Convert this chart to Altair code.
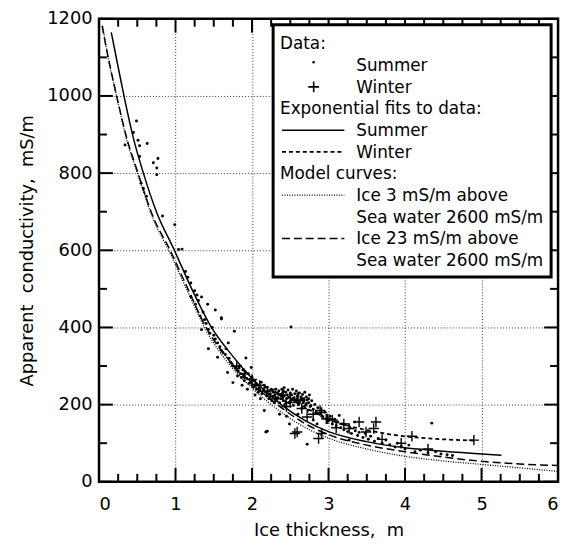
import altair as alt
import pandas as pd

W, H = 464, 468
FONT = "DejaVu Sans"

# ---------------- data ----------------
sum_x = [0.34, 0.49, 0.51, 0.53, 0.63, 0.53, 0.71, 0.77, 0.755, 0.755, 0.55, 0.58, 0.83, 0.99, 1.085, 1.04, 0.62, 0.45,
         1.13, 1.16, 1.2, 1.25, 1.28, 1.34, 1.42, 1.52, 1.6, 1.6, 1.3, 1.36, 1.38, 1.4, 1.43, 1.45, 1.34, 1.48, 1.5, 1.52,
         1.55, 1.43, 1.55, 1.58, 1.6, 1.62, 1.65, 1.66, 1.69, 1.7, 1.72, 1.74, 1.77, 1.68, 1.75, 1.78, 1.8, 1.81, 1.75,
         1.2, 1.26, 1.32,
         1.82, 1.84, 1.85, 1.86, 1.88, 1.9, 1.9, 1.92, 1.93, 1.95, 1.96, 1.97, 1.99, 2.0, 2.0, 2.02, 2.03, 2.05, 2.06,
         2.07, 2.08, 2.1, 2.1, 2.12, 2.13, 2.15, 2.16, 2.16, 2.18, 2.18, 2.19, 2.2, 2.2, 2.22, 2.22, 2.24, 2.25, 2.26,
         2.27, 2.28, 2.29, 1.87, 1.94, 2.04, 2.11,
         2.3, 2.31, 2.32, 2.33, 2.34, 2.35, 2.36, 2.37, 2.38, 2.39, 2.4, 2.41, 2.42, 2.42, 2.43, 2.44, 2.45, 2.46, 2.47,
         2.48, 2.49, 2.49, 2.5, 2.51, 2.51, 2.52, 2.53, 2.54, 2.55, 2.56, 2.57, 2.58, 2.59, 2.6, 2.61, 2.62, 2.63, 2.64,
         2.65, 2.66, 2.67, 2.68, 2.69, 2.7, 2.71, 2.72, 2.72, 2.73, 2.74, 2.75, 2.76, 2.78, 2.8, 2.82, 2.84, 2.86, 2.88,
         2.9, 2.92, 2.95, 2.98, 2.36, 2.45, 2.6, 2.8, 2.85,
         3.0, 3.02, 3.05, 3.08, 3.1, 3.12, 3.14, 3.16, 3.18, 3.2, 3.22, 3.25, 3.27, 3.28, 3.3, 3.34, 3.35, 3.38, 3.4,
         3.45, 3.48, 3.52, 3.55, 3.6, 3.65, 3.7, 3.75, 3.8, 3.87, 3.9, 3.95, 4.0, 4.05, 4.13, 4.2, 4.3, 4.35, 4.4,
         4.47, 4.55, 4.62,
         1.83, 1.89, 1.91, 1.98, 2.01, 2.04, 2.09, 2.14, 2.17, 2.21, 2.23, 2.27, 2.31, 2.34, 2.38, 2.41, 2.44, 2.47,
         2.5, 2.53, 2.56, 2.59, 2.62, 2.65, 2.68, 2.71, 2.74, 2.77, 2.3, 2.4, 2.5, 2.6, 2.2, 2.1]
sum_y = [873, 935, 885, 871, 877, 843, 827, 838, 813, 796, 774, 760, 689, 666, 603, 602, 740, 905,
         545, 530, 515, 495, 484, 479, 460, 445, 422, 425, 470, 440, 420, 410, 395, 385, 394, 400, 380, 370,
         360, 345, 323, 350, 340, 335, 330, 345, 360, 320, 310, 305, 390, 283, 300, 295, 290, 274, 257,
         480, 460, 430,
         285, 300, 280, 270, 290, 275, 262, 321, 268, 280, 255, 265, 296, 250, 270, 245, 262, 255, 240,
         250, 232, 248, 236, 258, 228, 240, 185, 250, 129, 232, 222, 245, 131, 236, 215, 228, 240, 210,
         222, 232, 205, 250, 240, 225, 215,
         225, 240, 212, 230, 218, 235, 205, 226, 215, 240, 230, 210, 244, 222, 200, 232, 215, 225, 238,
         205, 150, 220, 230, 401, 212, 225, 240, 198, 218, 228, 208, 235, 215, 222, 200, 230, 212, 220,
         190, 226, 205, 215, 232, 198, 220, 212, 97, 185, 205, 225, 195, 210, 188, 200, 180, 192, 175,
         185, 170, 180, 165, 175, 170, 175, 160, 150,
         158, 170, 150, 162, 145, 155, 172, 140, 150, 135, 148, 130, 108, 140, 125, 155, 132, 120, 128,
         115, 125, 110, 118, 105, 112, 100, 108, 96, 90, 100, 92, 85, 95, 78, 82, 75, 152, 78,
         72, 70, 68,
         295, 272, 285, 258, 262, 250, 242, 235, 245, 228, 220, 238, 218, 228, 222, 235, 208, 218,
         226, 215, 212, 222, 205, 215, 210, 202, 215, 198, 232, 218, 208, 228, 225, 238]

win_x = [2.56, 2.59, 2.91, 2.87, 2.91, 2.97, 2.89, 2.99, 2.72, 3.27, 3.40, 3.62, 3.59, 3.49, 4.09, 4.90,
         3.1, 3.2, 2.3, 2.4, 2.5, 2.6, 2.45, 2.2, 2.1, 2.0, 1.9, 1.8, 2.65, 2.8, 3.05, 3.7, 3.95, 4.3]
win_y = [125, 129, 125, 112, 180, 163, 185, 163, 168, 138, 155, 155, 138, 129, 118, 108,
         140, 150, 215, 225, 205, 210, 195, 235, 250, 265, 280, 300, 190, 175, 160, 110, 100, 85]

# exponential fits
fit_sum_x = [0.16, 0.25, 0.34, 0.45, 0.58, 0.75, 0.985, 1.2, 1.47, 1.75, 2.0, 2.38, 2.7, 3.0, 3.5, 4.0, 4.5, 5.0, 5.26]
fit_sum_y = [1165, 1075, 987, 890, 800, 700, 600, 505, 400, 325, 268, 200, 158, 130, 104, 88, 79, 72, 69]
fit_win_x = [2.5, 2.7, 3.0, 3.3, 3.6, 3.9, 4.2, 4.5, 4.9]
fit_win_y = [215, 192, 162, 143, 130, 120, 114, 110, 107]
# model curves
mod3_x = [0.05, 0.1, 0.245, 0.35, 0.51, 0.7, 0.93, 1.15, 1.40, 1.7, 2.0, 2.33, 2.7, 3.0, 3.5, 4.0, 4.5, 5.0, 5.5, 6.0]
mod3_y = [1180, 1120, 987, 895, 795, 685, 592, 497, 392, 305, 243, 188, 140, 113, 85, 66, 54, 45, 36, 27]
mod23_x = [0.04, 0.1, 0.245, 0.35, 0.51, 0.7, 0.93, 1.15, 1.40, 1.7, 2.0, 2.33, 2.7, 3.0, 3.5, 4.0, 4.5, 5.0, 5.5, 6.0]
mod23_y = [1182, 1120, 987, 900, 800, 690, 600, 505, 400, 315, 255, 200, 150, 122, 95, 78, 64, 53, 46, 42]

x_major = [0, 1, 2, 3, 4, 5, 6]
x_minor = [0.25, 0.5, 0.75, 1.25, 1.5, 1.75, 2.25, 2.5, 2.75, 3.25, 3.5, 3.75,
           4.25, 4.5, 4.75, 5.25, 5.5, 5.75]
y_major = [0, 200, 400, 600, 800, 1000, 1200]
y_minor = [100, 300, 500, 700, 900, 1100]

legend_labels = ["Data:", "Summer", "Winter", "Exponential fits to data:", "Summer", "Winter",
                 "Model curves:", "Ice 3 mS/m above", "Sea water 2600 mS/m",
                 "Ice 23 mS/m above", "Sea water 2600 mS/m"]
legend_is_header = [True, False, False, True, False, False, True, False, False, False, False]

x_title = "Ice thickness,\u00a0 m"
y_title = "Apparent\u00a0 conductivity,\u00a0 mS/m"

# ---------------- scales / axes ----------------
xs = alt.Scale(domain=[0, 6], nice=False, zero=False)
ys = alt.Scale(domain=[0, 1200], nice=False, zero=False)
common = dict(grid=True, ticks=False, tickSize=0, domain=False, format="d",
              labelFont=FONT, labelFontSize=18, labelColor="black",
              titleFont=FONT, titleFontSize=18, titleFontWeight="normal", titleColor="black",
              gridColor="black", gridDash=[1, 2], gridWidth=1, gridOpacity=0.8)
xaxis = alt.Axis(values=x_major, title=x_title, labelPadding=14, titlePadding=8, **common)
yaxis = alt.Axis(values=y_major, title=y_title, labelPadding=7, titlePadding=10, **common)


def X(f):
    return alt.X(f, type="quantitative", scale=xs, axis=xaxis)


def Y(f):
    return alt.Y(f, type="quantitative", scale=ys, axis=yaxis)


summer = pd.DataFrame({"x": sum_x, "y": sum_y})
winter = pd.DataFrame({"x": win_x, "y": win_y})

PLUS = "M-1,0L1,0M0,-1L0,1"

layers = []

# tick marks (inward, all four sides)
for vals, ln in ((x_major, 14), (x_minor, 8)):
    d = pd.DataFrame({"v": vals})
    layers.append(alt.Chart(d).mark_rule(color="black", strokeWidth=2).encode(
        x=X("v"), y=alt.value(H), y2=alt.value(H - ln)))
    layers.append(alt.Chart(d).mark_rule(color="black", strokeWidth=2).encode(
        x=X("v"), y=alt.value(0), y2=alt.value(ln)))
for vals, ln in ((y_major, 14), (y_minor, 8)):
    d = pd.DataFrame({"v": vals})
    layers.append(alt.Chart(d).mark_rule(color="black", strokeWidth=2).encode(
        y=Y("v"), x=alt.value(0), x2=alt.value(ln)))
    layers.append(alt.Chart(d).mark_rule(color="black", strokeWidth=2).encode(
        y=Y("v"), x=alt.value(W), x2=alt.value(W - ln)))

# data
layers.append(alt.Chart(summer).mark_circle(color="black", size=9, opacity=1).encode(x=X("x"), y=Y("y")))
layers.append(alt.Chart(winter).mark_point(shape=PLUS, filled=False, color="black", size=110,
                                           strokeWidth=1.4, opacity=1).encode(x=X("x"), y=Y("y")))


def curve(xv, yv, dash, width):
    d = pd.DataFrame({"x": xv, "y": yv})
    kw = dict(color="black", strokeWidth=width, interpolate="monotone")
    if dash:
        kw["strokeDash"] = dash
    return alt.Chart(d).mark_line(**kw).encode(x=X("x"), y=Y("y"))


layers.append(curve(fit_sum_x, fit_sum_y, None, 1.5))
layers.append(curve(fit_win_x, fit_win_y, [4, 3], 1.8))
layers.append(curve(mod3_x, mod3_y, [1, 1.5], 1.3))
layers.append(curve(mod23_x, mod23_y, [8, 4], 1.5))

# legend box
one = pd.DataFrame({"a": [0]})
LX0, LX1, LY0, LY1 = 176, 457, 6, 261
layers.append(alt.Chart(one).mark_rect(fill="white", stroke="black", strokeWidth=3).encode(
    x=alt.value(LX0), x2=alt.value(LX1), y=alt.value(LY0), y2=alt.value(LY1)))

row_y = [31 + 21.9 * i for i in range(len(legend_labels))]
for lab, hdr, yy in zip(legend_labels, legend_is_header, row_y):
    layers.append(alt.Chart(one).mark_text(text=lab, font=FONT, fontSize=17, align="left",
                                           baseline="alphabetic", color="black").encode(
        x=alt.value(LX0 + 7 if hdr else 260), y=alt.value(yy)))

SX0, SX1, SXC = 185, 248, 217
# summer dot sample
layers.append(alt.Chart(one).mark_circle(color="black", size=7, opacity=1).encode(
    x=alt.value(SXC), y=alt.value(row_y[1] - 9)))
# winter plus sample
layers.append(alt.Chart(one).mark_point(shape=PLUS, filled=False, color="black", size=121,
                                        strokeWidth=1.6, opacity=1).encode(
    x=alt.value(SXC), y=alt.value(row_y[2] - 6)))
for idx, dash, wdt in ((4, None, 1.5), (5, [4, 3], 1.8), (7, [1, 1.5], 1.3), (9, [8, 4], 1.5)):
    kw = dict(color="black", strokeWidth=wdt)
    if dash:
        kw["strokeDash"] = dash
    layers.append(alt.Chart(one).mark_rule(**kw).encode(
        x=alt.value(SX0), x2=alt.value(SX1), y=alt.value(row_y[idx] - 6)))

chart = alt.layer(*layers).properties(
    width=W, height=H,
    autosize=alt.AutoSizeParams(type="none"),
    padding={"left": 92, "top": 8, "right": 4, "bottom": 60},
    background="white",
).configure_view(
    stroke="black", strokeWidth=2.5
)

chart.save("out.html", embed_options={"renderer": "svg", "actions": False})
